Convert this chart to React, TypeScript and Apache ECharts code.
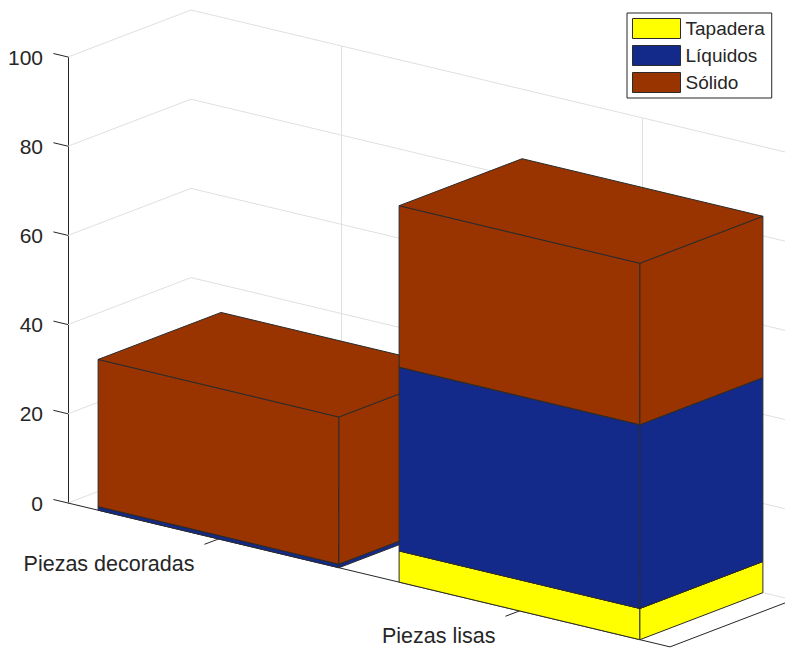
import React, { useEffect, useRef } from "react";
import * as echarts from "echarts";

// ---- data ----
const categories = ["Piezas decoradas", "Piezas lisas"];
const seriesNames = ["Tapadera", "Líquidos", "Sólido"];
const tapadera = [0, 7];
const liquidos = [0.8, 41.2];
const solido = [33, 36.2];
const zTicks = [0, 20, 40, 60, 80, 100];

// ---- styles / view ----
const seriesColors = ["#FFFF00", "#142A8A", "#993300"];
const layers = [tapadera, liquidos, solido];
const SKEW = 0.239; // screen-y drift per px along the category direction
const DEPTH_DX = 123;
const DEPTH_DY = -47;
const BAR_W = 0.8;
const FONT = '"Liberation Sans", Arial, Helvetica, sans-serif';
const TEXT = "#262626";
const GRID = "#e0e0e0";
const EDGE = "#2b2b2b";

function makeProj(api: any) {
  const o = api.coord([0.5, 0]);
  return (u: number, v: number, w: number) => {
    const c = api.coord([u, w]);
    return [c[0] + v * DEPTH_DX, c[1] + (c[0] - o[0]) * SKEW + v * DEPTH_DY];
  };
}

function norm(a: number[], b: number[]) {
  const dx = b[0] - a[0];
  const dy = b[1] - a[1];
  const l = Math.sqrt(dx * dx + dy * dy);
  return [dx / l, dy / l];
}

function line(a: number[], b: number[], stroke: string) {
  return {
    type: "line",
    shape: { x1: a[0], y1: a[1], x2: b[0], y2: b[1] },
    style: { stroke, lineWidth: 1 },
  };
}

function renderFrame(_params: any, api: any) {
  const P = makeProj(api);
  const children: any[] = [];
  zTicks.forEach((w) => {
    children.push({
      type: "polyline",
      shape: { points: [P(0.5, 0, w), P(0.5, 1, w), P(2.5, 1, w)] },
      style: { stroke: GRID, lineWidth: 1, fill: null },
    });
  });
  categories.forEach((_n, i) => {
    const u = i + 1;
    children.push(line(P(u, 1, 0), P(u, 1, zTicks[zTicks.length - 1]), GRID));
    children.push(line(P(u, 0, 0), P(u, 1, 0), GRID));
  });
  children.push(line(P(0.5, 0, 0), P(2.5, 0, 0), TEXT));
  children.push(line(P(2.5, 0, 0), P(2.5, 1, 0), TEXT));
  const du = norm(P(0.5, 0, 0), P(1.5, 0, 0));
  zTicks.forEach((w) => {
    const a = P(0.5, 0, w);
    children.push(line(a, [a[0] - du[0] * 15, a[1] - du[1] * 15], TEXT));
  });
  const dv = norm(P(0.5, 0, 0), P(0.5, 1, 0));
  categories.forEach((name, i) => {
    const a = P(i + 1, 0, 0);
    const t = [a[0] - dv[0] * 15, a[1] - dv[1] * 15];
    children.push(line(a, t, TEXT));
    children.push({
      type: "text",
      style: {
        text: name,
        x: t[0] - 10,
        y: t[1] + 20,
        align: "right",
        verticalAlign: "middle",
        fontSize: 21.5,
        fontFamily: FONT,
        fill: TEXT,
      },
    });
  });
  return { type: "group", children };
}

function makeBarRender(k: number) {
  return (_params: any, api: any) => {
    const u = api.value(0);
    const base = api.value(1);
    const val = api.value(2);
    if (!(val > 0)) return { type: "group", children: [] };
    const P = makeProj(api);
    const u0 = u - BAR_W / 2;
    const u1 = u + BAR_W / 2;
    const w0 = base;
    const w1 = base + val;
    const z2 = u * 10 + k;
    const style = { fill: seriesColors[k], stroke: EDGE, lineWidth: 1 };
    const faces = [
      [P(u0, 0, w0), P(u1, 0, w0), P(u1, 0, w1), P(u0, 0, w1)],
      [P(u1, 0, w0), P(u1, 1, w0), P(u1, 1, w1), P(u1, 0, w1)],
      [P(u0, 0, w1), P(u1, 0, w1), P(u1, 1, w1), P(u0, 1, w1)],
    ];
    return {
      type: "group",
      children: faces.map((pts) => ({
        type: "polygon",
        z2,
        shape: { points: pts },
        style,
      })),
    };
  };
}

export default function App() {
  const ref = useRef<HTMLDivElement>(null);
  useEffect(() => {
    if (!ref.current) return;
    const chart = echarts.init(ref.current, null, { renderer: "svg" });
    const barSeries = seriesNames.map((name, k) => ({
      type: "custom",
      name,
      z: 2,
      clip: false,
      itemStyle: { color: seriesColors[k], borderColor: EDGE, borderWidth: 1 },
      renderItem: makeBarRender(k),
      data: categories.map((_c, i) => {
        let base = 0;
        for (let j = 0; j < k; j++) base += layers[j][i];
        return [i + 1, base, layers[k][i]];
      }),
    }));
    chart.setOption({
      animation: false,
      backgroundColor: "#ffffff",
      grid: { left: 68, right: 115, top: 57, bottom: 145 },
      xAxis: { type: "value", min: 0.5, max: 2.5, show: false },
      yAxis: {
        type: "value",
        min: 0,
        max: 100,
        interval: 20,
        axisLine: { show: true, lineStyle: { color: TEXT, width: 1 } },
        axisTick: { show: false },
        splitLine: { show: false },
        axisLabel: { fontSize: 21, color: TEXT, fontFamily: FONT, margin: 25 },
      },
      legend: {
        data: seriesNames,
        orient: "vertical",
        left: 627,
        top: 13,
        icon: "rect",
        itemWidth: 48,
        itemHeight: 20,
        itemGap: 6,
        padding: [5, 7, 5, 5],
        borderColor: TEXT,
        borderWidth: 1,
        backgroundColor: "#ffffff",
        itemStyle: { borderColor: EDGE, borderWidth: 1 },
        textStyle: { fontSize: 19, color: TEXT, fontFamily: FONT },
        selectedMode: false,
      },
      series: [
        {
          type: "custom",
          name: "frame",
          z: 1,
          clip: false,
          silent: true,
          renderItem: renderFrame,
          data: [[1, 0]],
        },
        ...barSeries,
      ],
    });
    return () => chart.dispose();
  }, []);
  return (
    <div
      ref={ref}
      style={{ position: "fixed", left: 0, top: 0, width: 785, height: 648, background: "#fff" }}
    />
  );
}
